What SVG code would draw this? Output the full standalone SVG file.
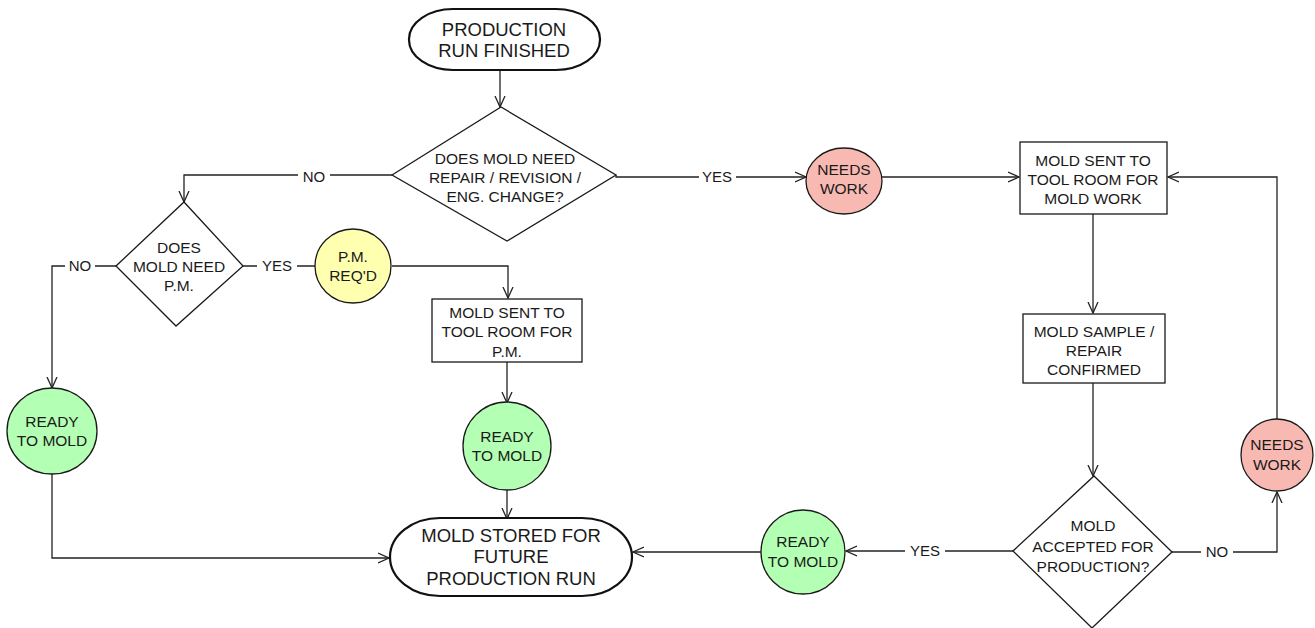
<svg xmlns="http://www.w3.org/2000/svg" width="1315" height="628" viewBox="0 0 1315 628">
<style>
text{font-family:"Liberation Sans",Arial,sans-serif;fill:#1a1a1a;text-anchor:middle;font-size:15.5px}
.big{font-size:18.5px}
.shape{stroke:#1a1a1a;stroke-width:1.3;fill:#fff}
.term{stroke:#111;stroke-width:2.2;fill:#fff}
.green{fill:#b3ffb3;stroke:#1a1a1a;stroke-width:1.3}
.pink{fill:#f9b9b3;stroke:#1a1a1a;stroke-width:1.3}
.yellow{fill:#ffffb0;stroke:#1a1a1a;stroke-width:1.3}
.c{fill:none;stroke:#222;stroke-width:1.3}
.lbl{font-size:15px}
.lblbg{fill:#fff}
</style>
<defs>
<marker id="arr" viewBox="0 0 12 12" refX="11" refY="6" markerWidth="12" markerHeight="12" markerUnits="userSpaceOnUse" orient="auto">
<path d="M0,1 L11,6 L0,11" fill="none" stroke="#222" stroke-width="1.3"/>
</marker>
</defs>
<g id="connectors">
<path class="c" d="M500,70 V107" marker-end="url(#arr)"/>
<path class="c" d="M392,175 H184 V202" marker-end="url(#arr)"/>
<path class="c" d="M616,175 V177 H806" marker-end="url(#arr)"/>
<path class="c" d="M882,177 H1019" marker-end="url(#arr)"/>
<path class="c" d="M1277,419 V177 H1168" marker-end="url(#arr)"/>
<path class="c" d="M1093,214 V313" marker-end="url(#arr)"/>
<path class="c" d="M1093,383 V476" marker-end="url(#arr)"/>
<path class="c" d="M1013,551 H846" marker-end="url(#arr)"/>
<path class="c" d="M761,552 H633" marker-end="url(#arr)"/>
<path class="c" d="M1172,552 H1277 V492" marker-end="url(#arr)"/>
<path class="c" d="M243,266 H315"/>
<path class="c" d="M392,266 H508 V298" marker-end="url(#arr)"/>
<path class="c" d="M507,362 V403" marker-end="url(#arr)"/>
<path class="c" d="M507,488 V519" marker-end="url(#arr)"/>
<path class="c" d="M116,266 H52 V388" marker-end="url(#arr)"/>
<path class="c" d="M52,474 V558 H389" marker-end="url(#arr)"/>
<rect class="lblbg" x="298" y="168" width="32" height="16"/>
<text class="lbl" x="314" y="182">NO</text>
<rect class="lblbg" x="699" y="169" width="37" height="16"/>
<text class="lbl" x="717" y="182">YES</text>
<rect class="lblbg" x="257" y="258" width="40" height="16"/>
<text class="lbl" x="277" y="271">YES</text>
<rect class="lblbg" x="65" y="258" width="30" height="16"/>
<text class="lbl" x="80" y="271">NO</text>
<rect class="lblbg" x="905" y="543" width="40" height="16"/>
<text class="lbl" x="925" y="556">YES</text>
<rect class="lblbg" x="1201" y="544" width="32" height="16"/>
<text class="lbl" x="1217" y="557">NO</text>
</g>
<g id="start">
<rect class="term" x="409" y="9" width="191" height="61" rx="44" ry="30"/>
<text class="big" x="504" y="36">PRODUCTION</text>
<text class="big" x="504" y="57">RUN FINISHED</text>
</g>
<g id="decision1">
<polygon class="shape" points="392,175 501,107 616,175 507,241"/>
<text x="505" y="164">DOES MOLD NEED</text>
<text x="505" y="183">REPAIR / REVISION /</text>
<text x="505" y="202">ENG. CHANGE?</text>
</g>
<g id="decision2">
<polygon class="shape" points="116,266 184,202 243,266 176,326"/>
<text x="179" y="253">DOES</text>
<text x="179" y="272">MOLD NEED</text>
<text x="179" y="291">P.M.</text>
</g>
<g id="pmreqd">
<ellipse class="yellow" cx="353" cy="266" rx="38" ry="37"/>
<text x="353" y="262">P.M.</text>
<text x="353" y="281">REQ'D</text>
</g>
<g id="pmroom">
<rect class="shape" x="432" y="299" width="150" height="63"/>
<text x="507" y="318">MOLD SENT TO</text>
<text x="507" y="337">TOOL ROOM FOR</text>
<text x="507" y="357">P.M.</text>
</g>
<g id="ready2">
<circle class="green" cx="507" cy="446" r="44"/>
<text x="507" y="442">READY</text>
<text x="507" y="461">TO MOLD</text>
</g>
<g id="ready1">
<ellipse class="green" cx="52" cy="431" rx="45" ry="43"/>
<text x="52" y="427">READY</text>
<text x="52" y="446">TO MOLD</text>
</g>
<g id="stored">
<rect class="term" x="390" y="518" width="242" height="78" rx="50" ry="39"/>
<text class="big" x="511" y="542">MOLD STORED FOR</text>
<text class="big" x="511" y="563">FUTURE</text>
<text class="big" x="511" y="585">PRODUCTION RUN</text>
</g>
<g id="needswork1">
<ellipse class="pink" cx="844" cy="181" rx="38" ry="33"/>
<text x="844" y="175">NEEDS</text>
<text x="844" y="194">WORK</text>
</g>
<g id="moldroom">
<rect class="shape" x="1020" y="142" width="147" height="72"/>
<text x="1093" y="166">MOLD SENT TO</text>
<text x="1093" y="185">TOOL ROOM FOR</text>
<text x="1093" y="204">MOLD WORK</text>
</g>
<g id="sample">
<rect class="shape" x="1023" y="314" width="142" height="69"/>
<text x="1094" y="337">MOLD SAMPLE /</text>
<text x="1094" y="356">REPAIR</text>
<text x="1094" y="375">CONFIRMED</text>
</g>
<g id="decision3">
<polygon class="shape" points="1013,551 1094,476 1172,552 1092,628"/>
<text x="1093" y="531">MOLD</text>
<text x="1093" y="552">ACCEPTED FOR</text>
<text x="1093" y="572">PRODUCTION?</text>
</g>
<g id="ready3">
<circle class="green" cx="803" cy="552" r="42"/>
<text x="803" y="547">READY</text>
<text x="803" y="567">TO MOLD</text>
</g>
<g id="needswork2">
<circle class="pink" cx="1277" cy="455" r="36"/>
<text x="1277" y="450">NEEDS</text>
<text x="1277" y="470">WORK</text>
</g>
</svg>
